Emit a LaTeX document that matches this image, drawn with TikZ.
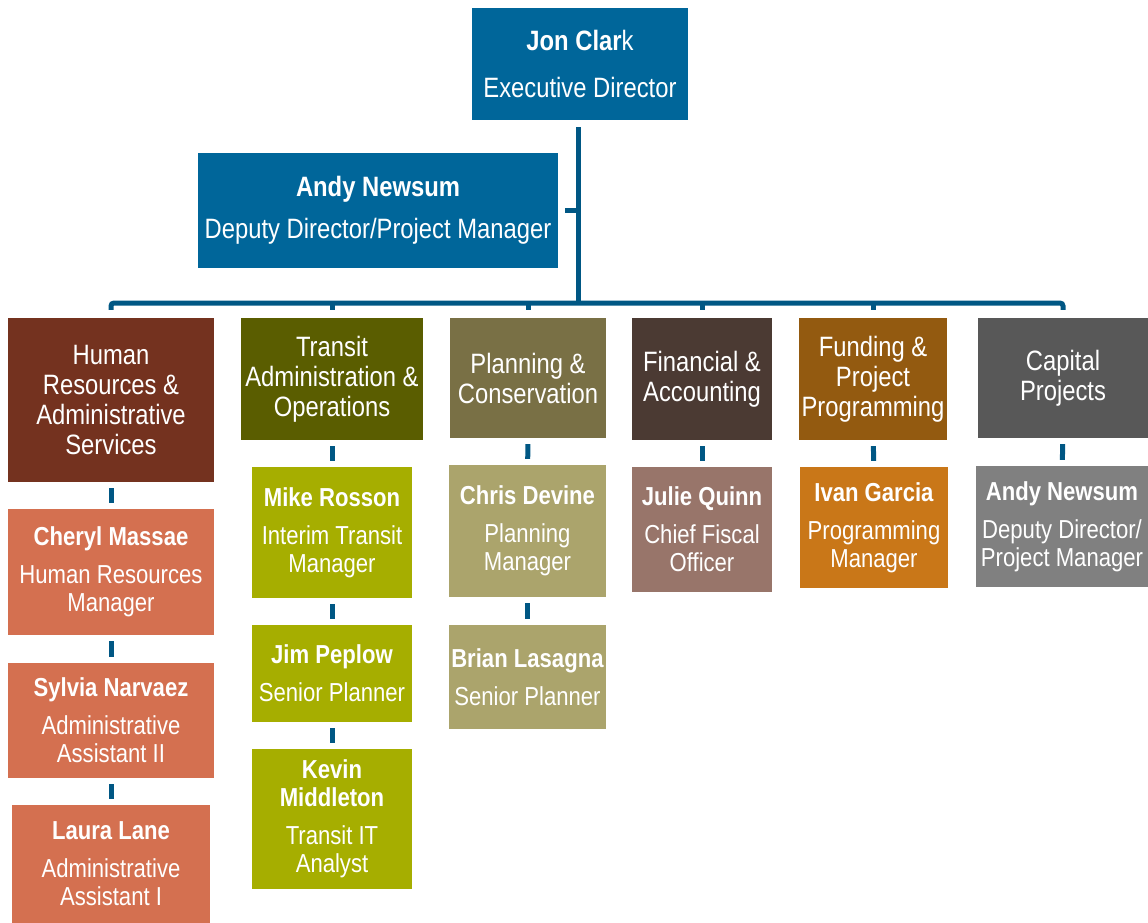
\documentclass[tikz,border=0pt]{standalone}
\usepackage{fontspec}
\setmainfont{Liberation Sans}[FakeStretch=0.85]
\definecolor{topblue}{RGB}{0,102,154}
\definecolor{linkblue}{RGB}{0,87,132}
\definecolor{hrdark}{RGB}{116,50,31}
\definecolor{hrlight}{RGB}{212,112,80}
\definecolor{trdark}{RGB}{90,93,0}
\definecolor{trlight}{RGB}{166,174,0}
\definecolor{pldark}{RGB}{121,112,69}
\definecolor{pllight}{RGB}{171,164,108}
\definecolor{findark}{RGB}{75,58,51}
\definecolor{finlight}{RGB}{152,117,106}
\definecolor{funddark}{RGB}{147,90,16}
\definecolor{fundlight}{RGB}{201,119,24}
\definecolor{capdark}{RGB}{88,88,88}
\definecolor{caplight}{RGB}{128,128,128}
\tikzset{
  box/.style={rectangle, text=white, align=center, inner sep=0pt},
  topbox/.style={box, fill=topblue, font=\fontsize{28}{30}\selectfont},
  deptbox/.style={box, font=\fontsize{28}{30}\selectfont},
  staffbox/.style={box, font=\fontsize{26}{28}\selectfont},
  link/.style={draw=linkblue, line width=5pt},
  tick/.style={link, shorten <=6pt, shorten >=6pt}
}
\begin{document}
\begin{tikzpicture}[x=1pt, y=-1pt]
			\useasboundingbox (0,0) rectangle (1148,923);

			% Leitung
			\node[topbox, minimum width=216, minimum height=112] (jon) at (580,64) {\textbf{Jon Clar}k\\[17pt]Executive Director};
			\node[topbox, minimum width=360, minimum height=115] (deputy) at (378,210.5) {\textbf{Andy Newsum}\\[12pt]Deputy Director/Project Manager};

			% Abteilungen
			\node[deptbox, fill=hrdark, minimum width=206, minimum height=164] (hr) at (111,400) {Human\\Resources \&\\Administrative\\Services};
			\node[deptbox, fill=trdark, minimum width=182, minimum height=122] (transit) at (332,379) {Transit\\Administration \&\\Operations};
			\node[deptbox, fill=pldark, minimum width=156, minimum height=120] (planning) at (528,378) {Planning \&\\Conservation};
			\node[deptbox, fill=findark, minimum width=140, minimum height=122] (finance) at (702,379) {Financial \&\\Accounting};
			\node[deptbox, fill=funddark, minimum width=148, minimum height=122] (funding) at (873,379) {Funding \&\\Project\\Programming};
			\node[deptbox, fill=capdark, minimum width=170, minimum height=120] (capital) at (1063,378) {Capital\\Projects};

			% Mitarbeiter
			\node[staffbox, fill=hrlight, minimum width=206, minimum height=126] (cheryl) at (111,572) {\textbf{Cheryl Massae}\\[10pt]Human Resources\\Manager};
			\node[staffbox, fill=hrlight, minimum width=206, minimum height=115] (sylvia) at (111,720.5) {\textbf{Sylvia Narvaez}\\[10pt]Administrative\\Assistant II};
			\node[staffbox, fill=hrlight, minimum width=198, minimum height=118] (laura) at (111,864) {\textbf{Laura Lane}\\[10pt]Administrative\\Assistant I};
			\node[staffbox, fill=trlight, minimum width=160, minimum height=131] (mike) at (332,532.5) {\textbf{Mike Rosson}\\[10pt]Interim Transit\\Manager};
			\node[staffbox, fill=trlight, minimum width=160, minimum height=97] (jim) at (332,673.5) {\textbf{Jim Peplow}\\[10pt]Senior Planner};
			\node[staffbox, fill=trlight, minimum width=160, minimum height=140] (kevin) at (332,819) {\textbf{Kevin}\\\textbf{Middleton}\\[10pt]Transit IT\\Analyst};
			\node[staffbox, fill=pllight, minimum width=157, minimum height=132] (chris) at (527.5,531) {\textbf{Chris Devine}\\[10pt]Planning\\Manager};
			\node[staffbox, fill=pllight, minimum width=157, minimum height=104] (brian) at (527.5,677) {\textbf{Brian Lasagna}\\[10pt]Senior Planner};
			\node[staffbox, fill=finlight, minimum width=140, minimum height=125] (julie) at (702,529.5) {\textbf{Julie Quinn}\\[10pt]Chief Fiscal\\Officer};
			\node[staffbox, fill=fundlight, minimum width=148, minimum height=121] (ivan) at (874,527.5) {\textbf{Ivan Garcia}\\[10pt]Programming\\Manager};
			\node[staffbox, fill=caplight, minimum width=172, minimum height=121] (andy) at (1062,526.5) {\textbf{Andy Newsum}\\[10pt]Deputy Director/\\Project Manager};

			% Verbindungen oben
			\coordinate (bus) at (578,303);
			\draw[link] ([yshift=-7pt]jon.south -| bus) -- (bus);
			\draw[link] ([xshift=7pt]deputy.east) -- (deputy.east -| bus);
			\draw[link, rounded corners=3pt] ([yshift=8pt]hr.north) |- (bus) -| ([yshift=8pt]capital.north);
			\foreach \dept in {transit, planning, finance, funding}
				\draw[link] ([yshift=8pt]\dept.north) -- ([yshift=15pt]\dept.north);

			% Verbindungen unten
			\draw[tick] (hr) -- (cheryl);
			\draw[tick] (cheryl) -- (sylvia);
			\draw[tick] (sylvia) -- (laura);
			\draw[tick] (transit) -- (mike);
			\draw[tick] (mike) -- (jim);
			\draw[tick] (jim) -- (kevin);
			\draw[tick] (planning) -- (chris);
			\draw[tick] (chris) -- (brian);
			\draw[tick] (finance) -- (julie);
			\draw[tick] (funding) -- (ivan);
			\draw[tick] (capital) -- (andy);
		\end{tikzpicture}
\end{document}
